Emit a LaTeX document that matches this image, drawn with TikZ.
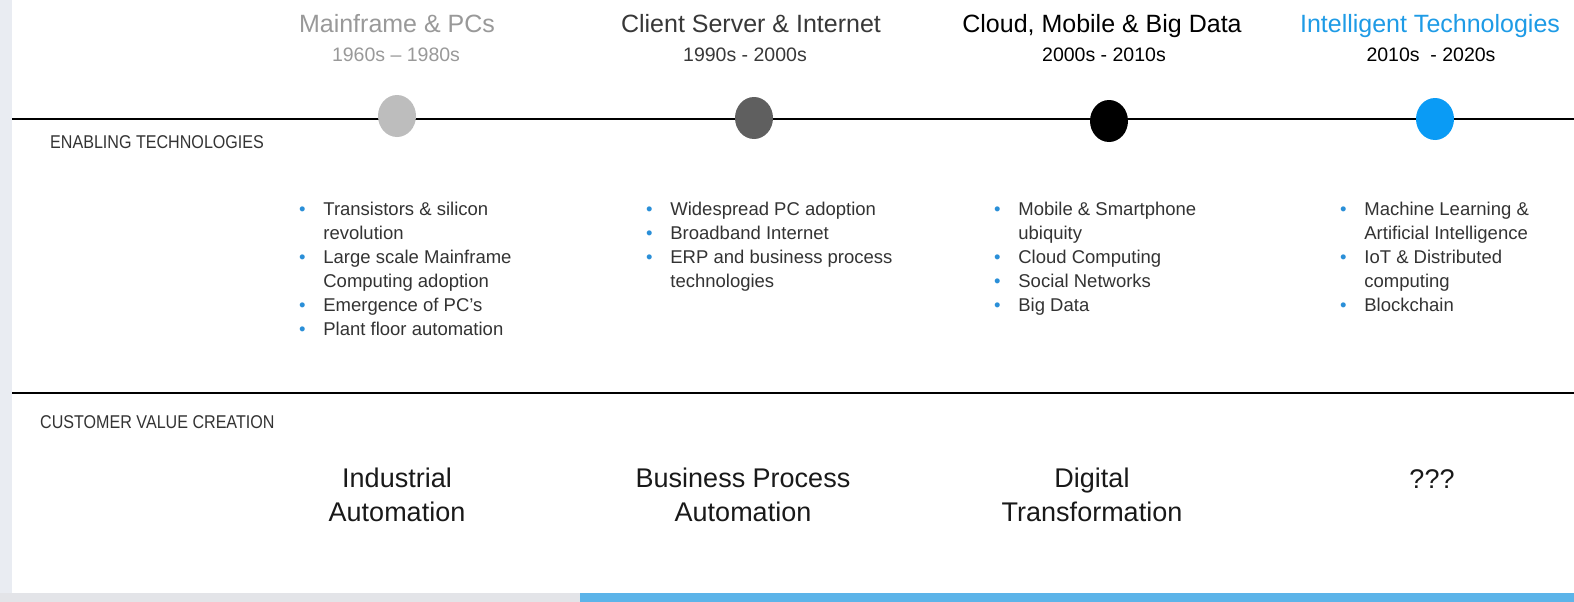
\documentclass[tikz,border=0pt]{standalone}
\usepackage{fontspec}
\setmainfont{Liberation Sans}
\newfontfamily\etroit[FakeStretch=0.87]{Liberation Sans}
\usetikzlibrary{shapes.geometric}
\definecolor{fond}{HTML}{E9ECF2}
\definecolor{ombre}{HTML}{E3E4E8}
\definecolor{barre}{HTML}{5CB4E9}
\definecolor{gris1}{HTML}{BDBDBD}
\definecolor{gris2}{HTML}{5F5F5F}
\definecolor{bleu}{HTML}{0A9BF5}
\definecolor{bleutitre}{HTML}{1E9BE6}
\definecolor{puce}{HTML}{2A8FD8}
\definecolor{texte}{HTML}{333333}
\newcommand{\pt}{{\color{puce}\textbullet}}

\begin{document}
\begin{tikzpicture}[x=1pt,y=-1pt]
\tikzset{rond/.style={ellipse, minimum width=38pt, minimum height=42pt, inner sep=0pt},
  titre/.style={anchor=base, inner sep=0pt, font=\fontsize{25}{30}\selectfont},
  sous/.style={anchor=base, inner sep=0pt, font=\fontsize{19.5}{24}\selectfont},
  liste/.style={anchor=north west, inner sep=0pt, text=texte, font=\fontsize{18.5}{24}\selectfont},
  rubrique/.style={anchor=base west, inner sep=0pt, text=texte, font=\etroit\fontsize{18.5}{22}\selectfont},
  valeur/.style={align=center, inner sep=0pt, text=black!90, font=\fontsize{27}{34}\selectfont}}
\useasboundingbox (0,0) rectangle (1574,602);
\fill[fond] (0,0) rectangle (1574,602);
\fill[white] (12,0) rectangle (1574,593);
\fill[ombre] (0,593) rectangle (580,602);
\fill[barre] (580,593) rectangle (1574,602);
% lignes
\coordinate (L1) at (12,119);
\coordinate (R1) at (1574,119);
\coordinate (L2) at (12,393);
\coordinate (R2) at (1574,393);
\draw[line width=2pt] (L1) -- (R1);
\draw[line width=2.4pt] (L2) -- (R2);
\node[rond, fill=gris1] (E1) at (397,116) {};
\node[rond, fill=gris2] (E2) at (754,118) {};
\node[rond, fill=black] (E3) at (1109,121) {};
\node[rond, fill=bleu] (E4) at (1435,119) {};
% titres
\node[titre, text=black!40] (T1) at (397,33) {Mainframe \& PCs};
\node[sous, text=black!40] (S1) at (396,62) {1960s – 1980s};
\node[titre, text=black!78] (T2) at (751,33) {Client Server \& Internet};
\node[sous, text=black!78] (S2) at (745,62) {1990s - 2000s};
\node[titre, text=black] (T3) at (1102,33) {Cloud, Mobile \& Big Data};
\node[sous, text=black] (S3) at (1104,62) {2000s - 2010s};
\node[titre, text=bleutitre] (T4) at (1430,33) {Intelligent Technologies};
\node[sous, text=black] (S4) at (1431,62) {2010s\ \ - 2020s};
% rubriques
\node[rubrique] (R1) at (50,148) {ENABLING TECHNOLOGIES};
\node[rubrique] (R2) at (40,428) {CUSTOMER VALUE CREATION};
% listes
\node[liste] (B1) at (299,198) {\begin{tabular}{@{}l@{\hspace{17.7pt}}l@{}}
\pt & Transistors \& silicon\\ & revolution\\
\pt & Large scale Mainframe\\ & Computing adoption\\
\pt & Emergence of PC’s\\
\pt & Plant floor automation\end{tabular}};
\node[liste] (B2) at (646,198) {\begin{tabular}{@{}l@{\hspace{17.7pt}}l@{}}
\pt & Widespread PC adoption\\
\pt & Broadband Internet\\
\pt & ERP and business process\\ & technologies\end{tabular}};
\node[liste] (B3) at (994,198) {\begin{tabular}{@{}l@{\hspace{17.7pt}}l@{}}
\pt & Mobile \& Smartphone\\ & ubiquity\\
\pt & Cloud Computing\\
\pt & Social Networks\\
\pt & Big Data\end{tabular}};
\node[liste] (B4) at (1340,198) {\begin{tabular}{@{}l@{\hspace{17.7pt}}l@{}}
\pt & Machine Learning \&\\ & Artificial Intelligence\\
\pt & IoT \& Distributed\\ & computing\\
\pt & Blockchain\end{tabular}};
% valeurs
\node[valeur] (V1) at (397,495) {Industrial\\Automation};
\node[valeur] (V2) at (743,495) {Business Process\\Automation};
\node[valeur] (V3) at (1092,495) {Digital\\Transformation};
\node[valeur, anchor=base] (V4) at (1432,488) {???};
\end{tikzpicture}
\end{document}
